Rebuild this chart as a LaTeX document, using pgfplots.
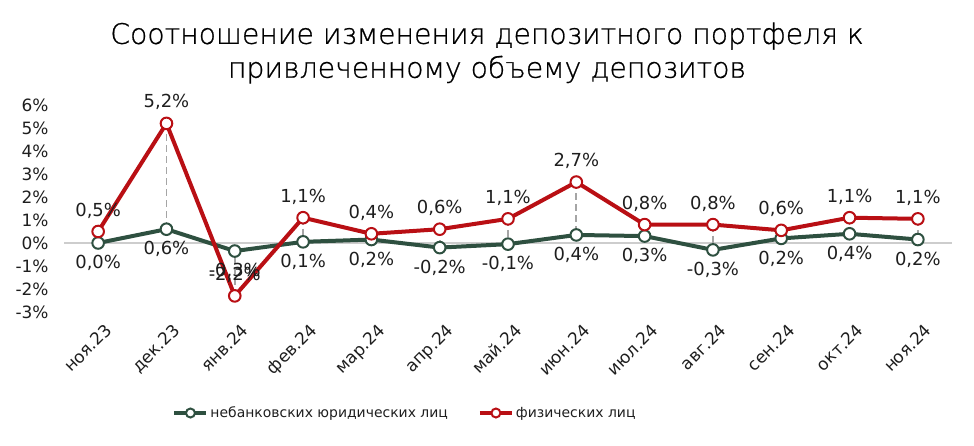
\documentclass[border=0pt]{standalone}
\usepackage{fontspec}
\setmainfont{DejaVu Sans}
\newfontfamily\titlefont{DejaVu Sans ExtraLight}[BoldFont=DejaVu Sans ExtraLight, BoldFeatures={FakeBold=0.7}]
\usepackage{pgfplots}
\pgfplotsset{compat=1.18}
\definecolor{cgreen}{RGB}{46,80,64}
\definecolor{cred}{RGB}{185,15,20}
\definecolor{cgrid}{RGB}{205,205,205}
\definecolor{cdash}{RGB}{165,165,165}
\definecolor{ctext}{RGB}{30,30,30}
\begin{document}
\begin{tikzpicture}[x=1bp,y=1bp]
\useasboundingbox (0,0) rectangle (974,446);
\node[font=\titlefont\bfseries\fontsize{28.4}{34}\selectfont, align=center, text=black] at (487,393) {Соотношение изменения депозитного портфеля к\\привлеченному объему депозитов};
\begin{axis}[
  at={(64bp,134bp)}, anchor=south west,
  scale only axis, width=888bp, height=207bp,
  xmin=-0.5, xmax=12.5, ymin=-3, ymax=6,
  /pgf/number format/assume math mode=true,
  axis line style={draw=none},
  tick style={draw=none},
  xtick={0,...,12},
  xticklabels={ноя.23,дек.23,янв.24,фев.24,мар.24,апр.24,май.24,июн.24,июл.24,авг.24,сен.24,окт.24,ноя.24},
  xticklabel style={rotate=45, anchor=north east, font=\fontsize{17}{20}\selectfont, text=ctext, yshift=-8bp, xshift=0bp},
  ytick={-3,...,6},
  yticklabel={\pgfmathprintnumber{\tick}\%},
  yticklabel style={font=\fontsize{17}{20}\selectfont, text=ctext, xshift=-12bp},
  extra y ticks={0},
  extra y tick labels={},
  extra y tick style={grid=major, major grid style={cgrid, line width=2bp}},
  clip=false,
  nodes near coords={\pgfmathprintnumber[fixed,fixed zerofill,precision=1,use comma]{\pgfplotspointmeta}\%},
  legend style={at={(0.384,-0.488)}, anchor=center, draw=none, fill=none,
    legend columns=2, font=\fontsize{14}{17}\selectfont, text=ctext,
    /tikz/every even column/.append style={column sep=28bp}},
  legend image code/.code={\draw[mark repeat=2,mark phase=2,mark size=4.5bp] plot coordinates {(0bp,0bp)(16bp,0bp)(32bp,0bp)};},
]
\addplot[cdash, dash pattern=on 7bp off 4bp, line width=1.8bp, unbounded coords=jump, forget plot, nodes near coords={}] coordinates {
(0,0.5) (0,0.0) (0,nan)
(1,5.2) (1,0.6) (1,nan)
(2,-2.3) (2,-0.35) (2,nan)
(3,1.1) (3,0.05) (3,nan)
(4,0.4) (4,0.15) (4,nan)
(5,0.6) (5,-0.2) (5,nan)
(6,1.05) (6,-0.05) (6,nan)
(7,2.65) (7,0.35) (7,nan)
(8,0.8) (8,0.3) (8,nan)
(9,0.8) (9,-0.3) (9,nan)
(10,0.55) (10,0.2) (10,nan)
(11,1.1) (11,0.4) (11,nan)
(12,1.05) (12,0.15) (12,nan)
};
\addplot[cgreen, line width=4bp, mark=*, mark size=5.8bp, mark options={fill=white, draw=cgreen, line width=2bp},
  point meta=explicit,
  every node near coord/.append style={anchor=north, yshift=-8bp, text=ctext, font=\fontsize{18}{21}\selectfont}]
  table[meta=lab] {
x y lab
0 0.0 0.0
1 0.6 0.6
2 -0.35 -0.3
3 0.05 0.1
4 0.15 0.2
5 -0.2 -0.2
6 -0.05 -0.1
7 0.35 0.4
8 0.3 0.3
9 -0.3 -0.3
10 0.2 0.2
11 0.4 0.4
12 0.15 0.2
};
\addlegendentry{небанковских юридических лиц}
\addplot[cred, line width=4bp, mark=*, mark size=5.8bp, mark options={fill=white, draw=cred, line width=2bp},
  point meta=explicit,
  every node near coord/.append style={anchor=south, yshift=9bp, text=ctext, font=\fontsize{18}{21}\selectfont}]
  table[meta=lab] {
x y lab
0 0.5 0.5
1 5.2 5.2
2 -2.3 -2.2
3 1.1 1.1
4 0.4 0.4
5 0.6 0.6
6 1.05 1.1
7 2.65 2.7
8 0.8 0.8
9 0.8 0.8
10 0.55 0.6
11 1.1 1.1
12 1.05 1.1
};
\addlegendentry{физических лиц}
\end{axis}
\end{tikzpicture}
\end{document}
